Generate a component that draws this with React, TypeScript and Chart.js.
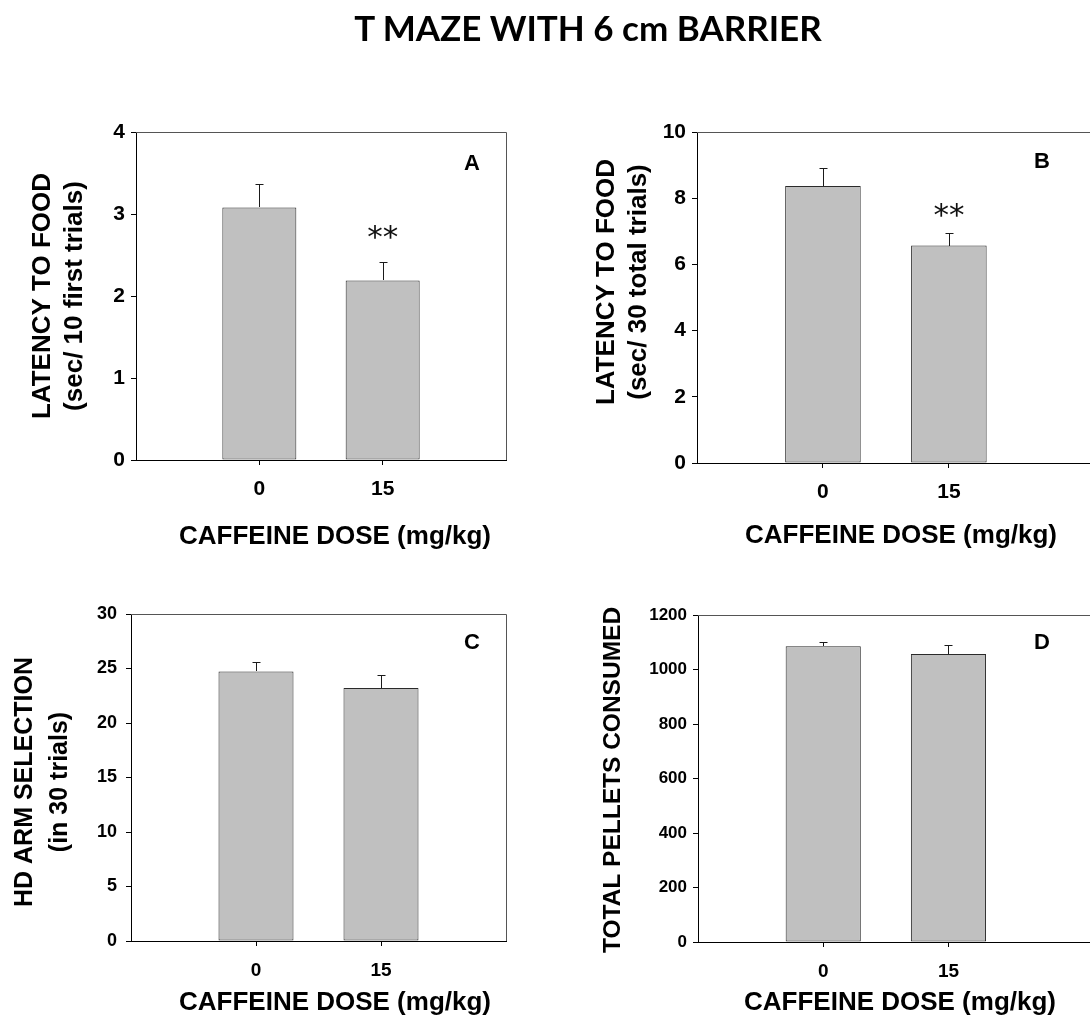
import React, { useEffect, useRef } from "react";
import { Chart, registerables } from "chart.js";

Chart.register(...registerables);

// ---------- data ----------
const doseLabels = ["0", "15"];

const latencyFirstMeans = [3.08, 2.19];
const latencyFirstSem = [0.29, 0.23];
const latencyFirstSig = ["", "**"];

const latencyTotalMeans = [8.37, 6.57];
const latencyTotalSem = [0.55, 0.39];
const latencyTotalSig = ["", "**"];

const hdArmMeans = [24.73, 23.2];
const hdArmSem = [0.89, 1.23];
const hdArmSig = ["", ""];

const pelletsMeans = [1085, 1057];
const pelletsSem = [16, 34];
const pelletsSig = ["", ""];

const mainTitle = "T MAZE WITH 6 cm BARRIER";
const xTitleText = "CAFFEINE DOSE (mg/kg)";

// ---------- layout ----------
const CW = 1110;
const CH = 1019;
const YW = 90;
const XH = 60;

const SANS = '"Liberation Sans", Arial, sans-serif';

type Panel = {
  letter: string;
  means: number[];
  sem: number[];
  sig: string[];
  sigOffset: number;
  yMax: number;
  yStep: number;
  xMax: number;
  area: { l: number; t: number; r: number; b: number };
  yTitle: string[];
  yTitleX: number[];
  yTitleCY: number;
  yTitleSize: number;
  xTitleCX: number;
  xTitleCY: number;
  letterX: number;
  letterY: number;
  yTickSize: number;
  xTickSize: number;
  yTickPad: number;
  xTickPad: number;
};

const panels: Panel[] = [
  {
    letter: "A",
    means: latencyFirstMeans,
    sem: latencyFirstSem,
    sig: latencyFirstSig,
    sigOffset: 30,
    yMax: 4,
    yStep: 1,
    xMax: 2,
    area: { l: 136, t: 132, r: 506, b: 460 },
    yTitle: ["LATENCY TO FOOD", "(sec/ 10 first trials)"],
    yTitleX: [43, 75],
    yTitleCY: 296,
    yTitleSize: 26,
    xTitleCX: 335,
    xTitleCY: 537,
    letterX: 472,
    letterY: 164,
    yTickSize: 21,
    xTickSize: 21,
    yTickPad: 6,
    xTickPad: 12,
  },
  {
    letter: "B",
    means: latencyTotalMeans,
    sem: latencyTotalSem,
    sig: latencyTotalSig,
    sigOffset: 23,
    yMax: 10,
    yStep: 2,
    xMax: 2.2,
    area: { l: 697, t: 132, r: 1100, b: 463 },
    yTitle: ["LATENCY TO FOOD", "(sec/ 30 total trials)"],
    yTitleX: [607, 639],
    yTitleCY: 282,
    yTitleSize: 26,
    xTitleCX: 901,
    xTitleCY: 536,
    letterX: 1042,
    letterY: 162,
    yTickSize: 21,
    xTickSize: 21,
    yTickPad: 6,
    xTickPad: 12,
  },
  {
    letter: "C",
    means: hdArmMeans,
    sem: hdArmSem,
    sig: hdArmSig,
    sigOffset: 25,
    yMax: 30,
    yStep: 5,
    xMax: 2,
    area: { l: 131, t: 614, r: 506, b: 941 },
    yTitle: ["HD ARM SELECTION", "(in 30 trials)"],
    yTitleX: [25, 60],
    yTitleCY: 782,
    yTitleSize: 25,
    xTitleCX: 335,
    xTitleCY: 1003,
    letterX: 472,
    letterY: 643,
    yTickSize: 18,
    xTickSize: 19,
    yTickPad: 9,
    xTickPad: 13,
  },
  {
    letter: "D",
    means: pelletsMeans,
    sem: pelletsSem,
    sig: pelletsSig,
    sigOffset: 25,
    yMax: 1200,
    yStep: 200,
    xMax: 2.21,
    area: { l: 698, t: 615, r: 1100, b: 942 },
    yTitle: ["TOTAL PELLETS CONSUMED"],
    yTitleX: [613],
    yTitleCY: 780,
    yTitleSize: 24.5,
    xTitleCX: 900,
    xTitleCY: 1003,
    letterX: 1042,
    letterY: 643,
    yTickSize: 17,
    xTickSize: 19,
    yTickPad: 6,
    xTickPad: 13,
  },
];

function makeDecor(p: Panel) {
  return {
    id: "panelDecor" + p.letter,
    afterDatasetsDraw(chart: any) {
      const ctx = chart.ctx as CanvasRenderingContext2D;
      const ys = chart.scales.y;
      const meta = chart.getDatasetMeta(0);
      ctx.save();
      meta.data.forEach((bar: any, i: number) => {
        const topPx = Math.round(ys.getPixelForValue(p.means[i] + p.sem[i])) + 0.5;
        const x = Math.round(bar.x) + 0.5;
        ctx.strokeStyle = "#1a1a1a";
        ctx.lineWidth = 1;
        ctx.beginPath();
        ctx.moveTo(x, Math.round(bar.y));
        ctx.lineTo(x, topPx);
        ctx.moveTo(x - 4, topPx);
        ctx.lineTo(x + 4, topPx);
        ctx.stroke();
        if (p.sig[i]) {
          ctx.fillStyle = "#111";
          ctx.font = '31px "DejaVu Sans", sans-serif';
          ctx.textAlign = "center";
          ctx.textBaseline = "middle";
          ctx.fillText(p.sig[i], bar.x, topPx - p.sigOffset + 6);
        }
      });
      ctx.restore();
    },
    afterDraw(chart: any) {
      const ctx = chart.ctx as CanvasRenderingContext2D;
      const a = chart.chartArea;
      ctx.save();
      // frame top & right
      ctx.strokeStyle = "#555";
      ctx.lineWidth = 1;
      ctx.beginPath();
      ctx.moveTo(Math.round(a.left), Math.round(a.top) + 0.5);
      ctx.lineTo(Math.round(a.right) + 0.5, Math.round(a.top) + 0.5);
      ctx.lineTo(Math.round(a.right) + 0.5, Math.round(a.bottom));
      ctx.stroke();
      // panel letter
      ctx.fillStyle = "#000";
      ctx.font = `bold 22px ${SANS}`;
      ctx.textAlign = "center";
      ctx.textBaseline = "middle";
      ctx.fillText(p.letter, p.letterX, p.letterY);
      // y title
      ctx.font = `bold ${p.yTitleSize}px ${SANS}`;
      p.yTitle.forEach((line, j) => {
        ctx.save();
        ctx.translate(p.yTitleX[j], p.yTitleCY);
        ctx.rotate(-Math.PI / 2);
        ctx.fillText(line, 0, 0);
        ctx.restore();
      });
      // x title
      ctx.font = `bold 26px ${SANS}`;
      ctx.fillText(xTitleText, p.xTitleCX, p.xTitleCY);
      ctx.restore();
    },
  };
}

function PanelChart({ p }: { p: Panel }) {
  const ref = useRef<HTMLCanvasElement | null>(null);
  useEffect(() => {
    if (!ref.current) return;
    const chart = new Chart(ref.current, {
      type: "bar",
      data: {
        datasets: [
          {
            data: p.means.map((m, i) => ({ x: i, y: m })),
            backgroundColor: "#c0c0c0",
            borderColor: "#2a2a2a",
            borderWidth: 1,
            borderSkipped: false,
            barPercentage: 0.6,
            categoryPercentage: 1,
          } as any,
        ],
      },
      options: {
        responsive: false,
        animation: false,
        events: [],
        devicePixelRatio: 1,
        layout: {
          padding: {
            left: p.area.l - YW,
            top: p.area.t,
            right: CW - p.area.r,
            bottom: CH - p.area.b - XH,
          },
        },
        plugins: {
          legend: { display: false },
          tooltip: { enabled: false },
          title: { display: false },
        },
        scales: {
          x: {
            type: "linear",
            min: -1,
            max: p.xMax,
            offset: false,
            afterFit: (s: any) => {
              s.height = XH;
            },
            afterBuildTicks: (s: any) => {
              s.ticks = doseLabels.map((_, i) => ({ value: i }));
            },
            ticks: {
              autoSkip: false,
              maxRotation: 0,
              color: "#000",
              padding: p.xTickPad,
              font: { family: SANS, size: p.xTickSize, weight: "bold" },
              callback: (v: any) => doseLabels[Math.round(Number(v))] ?? "",
            },
            grid: {
              offset: false,
              drawOnChartArea: false,
              drawTicks: true,
              tickLength: 5,
              color: "#000",
            },
            border: { display: true, color: "#000", width: 1 },
          } as any,
          y: {
            type: "linear",
            min: 0,
            max: p.yMax,
            afterFit: (s: any) => {
              s.width = YW;
            },
            ticks: {
              stepSize: p.yStep,
              color: "#000",
              padding: p.yTickPad,
              font: { family: SANS, size: p.yTickSize, weight: "bold" },
              callback: (v: any) => String(v),
            },
            grid: {
              drawOnChartArea: false,
              drawTicks: true,
              tickLength: 5,
              color: "#000",
            },
            border: { display: true, color: "#000", width: 1 },
          } as any,
        },
      },
      plugins: [makeDecor(p)],
    });
    return () => chart.destroy();
  }, [p]);
  return (
    <canvas
      ref={ref}
      width={CW}
      height={CH}
      style={{ position: "absolute", left: 0, top: 0, width: CW, height: CH }}
    />
  );
}

export default function App() {
  return (
    <div
      style={{
        position: "absolute",
        left: 0,
        top: 0,
        width: 1090,
        height: 1019,
        overflow: "hidden",
        background: "#fff",
      }}
    >
      <div
        style={{
          position: "absolute",
          left: 0,
          top: 7,
          width: 1176,
          textAlign: "center",
          fontFamily: 'Lato, "Open Sans", sans-serif',
          fontWeight: 700,
          fontSize: 35,
          lineHeight: "40px",
          color: "#000",
          zIndex: 5,
        }}
      >
        {mainTitle}
      </div>
      {panels.map((p) => (
        <PanelChart key={p.letter} p={p} />
      ))}
    </div>
  );
}
